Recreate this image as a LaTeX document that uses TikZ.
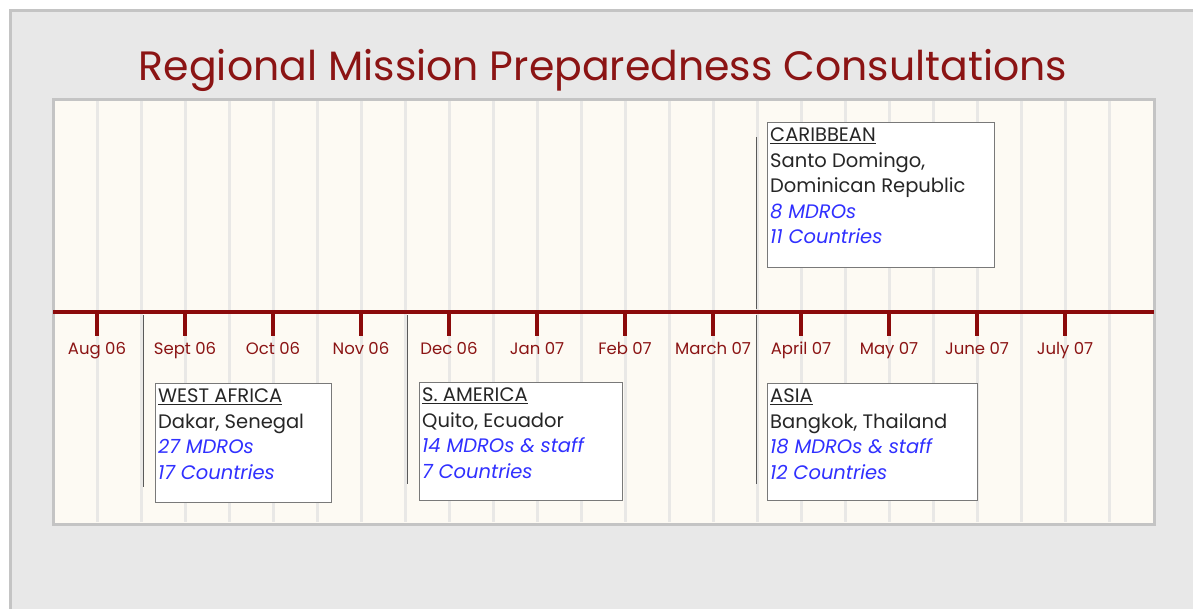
\documentclass[tikz,border=0pt]{standalone}
\usepackage{fontspec}
\setmainfont{Poppins}
\usetikzlibrary{positioning}

\definecolor{pagegray}{HTML}{E8E8E8}
\definecolor{framegray}{HTML}{C4C4C4}
\definecolor{cream}{HTML}{FDFAF3}
\definecolor{stripegray}{HTML}{E9E8E6}
\definecolor{maroon}{HTML}{8B0A0A}
\definecolor{titlered}{HTML}{8B1414}
\definecolor{countblue}{HTML}{3030FF}
\definecolor{markergray}{HTML}{5A5A5A}

\newcommand{\mdcount}[1]{{\color{countblue}\itshape #1}}

\begin{document}
\begin{tikzpicture}[
    x=1pt, y=-1pt,
    timeline/.style={draw=maroon, line width=4pt},
    tick/.style={draw=maroon, line width=4pt},
    month/.style={text=titlered, font=\fontsize{16.5}{19}\selectfont, inner sep=0pt, anchor=base},
    marker/.style={draw=markergray, line width=1pt},
    regionbox/.style={draw=gray!95!black, fill=white, line width=1pt, anchor=north west, inner sep=0pt},
    regiontext/.style={anchor=north west, align=left, inner xsep=3pt, inner ysep=6pt, text=black!85,
        font=\fontsize{19.5}{25.4}\selectfont}
]
    \useasboundingbox (0,0) rectangle (1193,608);

    % page and panel
    \fill[white] (0,0) rectangle (1193,608);
    \draw[fill=pagegray, draw=framegray, line width=3pt] (10,10) rectangle (1210,625);
    \draw[fill=cream, draw=framegray, line width=3pt] (53,99) rectangle (1154,524);
    \foreach \x in {0,...,23}
        \draw[stripegray, line width=3pt] (97+44*\x,101) -- (97+44*\x,522);

    \node[text=titlered, font=\fontsize{41}{48}\selectfont, anchor=base, inner sep=0pt] (title) at (603,80)
        {Regional Mission Preparedness Consultations};

    % the time axis
    \coordinate (axisL) at (53,312);
    \coordinate (axisR) at (1154,312);
    \draw[timeline] (axisL) -- (axisR);
    \foreach \m/\lbl [count=\i from 0] in {aug06/Aug 06, sep06/Sept 06, oct06/Oct 06,
            nov06/Nov 06, dec06/Dec 06, jan07/Jan 07, feb07/Feb 07, mar07/March 07,
            apr07/April 07, may07/May 07, jun07/June 07, jul07/July 07} {
        \coordinate (\m) at (97+88*\i,312);
        \node[month] (\m-lbl) at (97+88*\i,354) {\lbl};
        \draw[tick] (\m) -- ++(0,24);
    }

    % event markers
    \coordinate (waT) at (143,315);
    \coordinate (waB) at (143,487);
    \coordinate (saT) at (407,315);
    \coordinate (saB) at (407,484);
    \coordinate (asT) at (756,315);
    \coordinate (asB) at (756,484);
    \coordinate (caT) at (756,137);
    \coordinate (caB) at (756,309);
    \draw[marker] (waT) -- (waB);
    \draw[marker] (saT) -- (saB);
    \draw[marker] (asT) -- (asB);
    \draw[marker] (caT) -- (caB);

    % regions
    \node[regionbox, minimum width=176, minimum height=119] (wa) at (155,383) {};
    \node[regiontext] (wa-txt) at (wa.north west)
        {\underline{WEST AFRICA}\\Dakar, Senegal\\\mdcount{27 MDROs}\\\mdcount{17 Countries}};

    \node[regionbox, minimum width=203, minimum height=118] (sa) at (419,382) {};
    \node[regiontext] (sa-txt) at (sa.north west)
        {\underline{S. AMERICA}\\Quito, Ecuador\\\mdcount{14 MDROs \& staff}\\\mdcount{7 Countries}};

    \node[regionbox, minimum width=210, minimum height=117] (as) at (767,383) {};
    \node[regiontext] (as-txt) at (as.north west)
        {\underline{ASIA}\\Bangkok, Thailand\\\mdcount{18 MDROs \& staff}\\\mdcount{12 Countries}};

    \node[regionbox, minimum width=227, minimum height=145] (ca) at (767,122) {};
    \node[regiontext] (ca-txt) at (ca.north west)
        {\underline{CARIBBEAN}\\Santo Domingo,\\Dominican Republic\\\mdcount{8 MDROs}\\\mdcount{11 Countries}};
\end{tikzpicture}
\end{document}
